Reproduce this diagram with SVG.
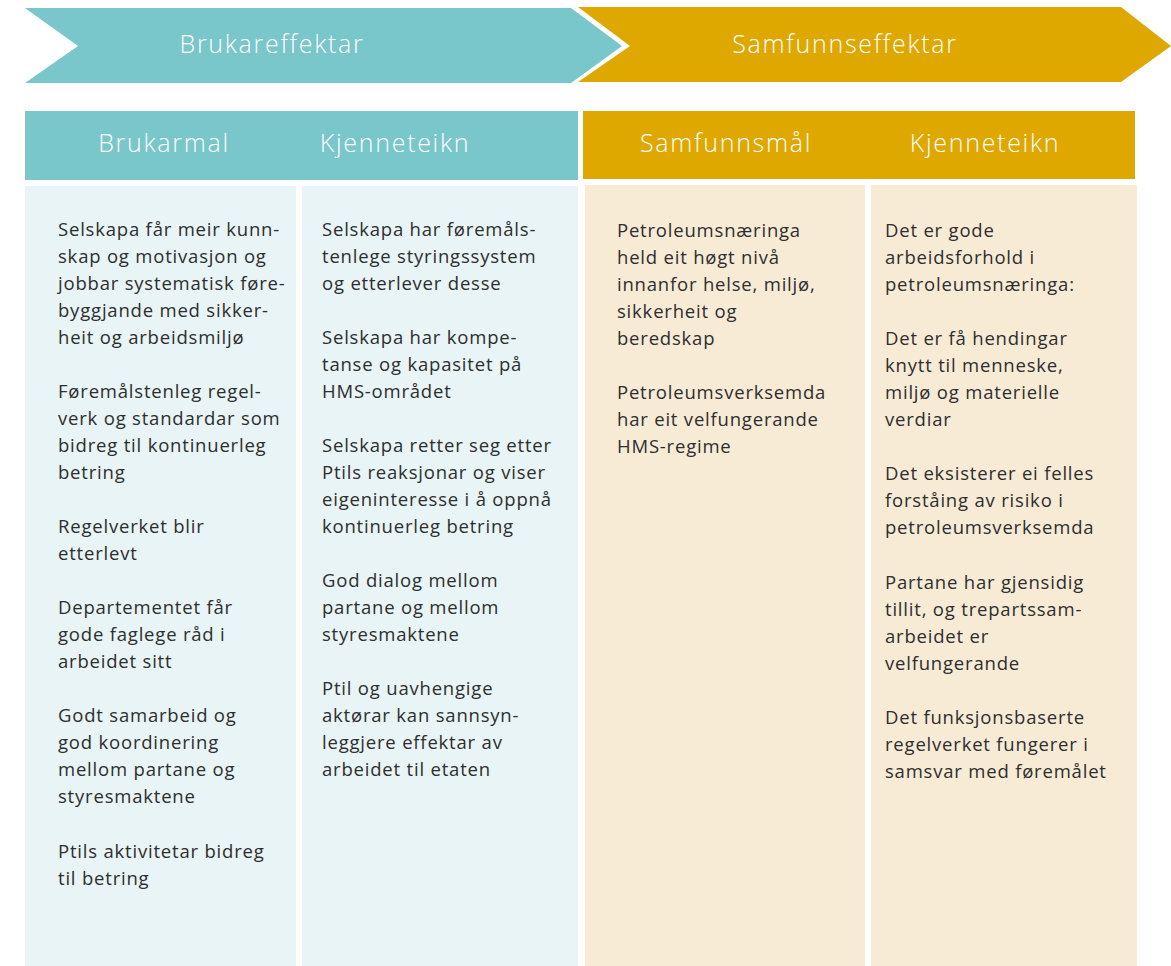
<svg xmlns="http://www.w3.org/2000/svg" width="1171" height="966" viewBox="0 0 1171 966">
<style>
.teal{fill:#79C6CB}
.gold{fill:#DFA800}
.lteal{fill:#E8F4F6}
.lgold{fill:#F8EBD6}
.hd{font-family:"Open Sans","Lato",sans-serif;font-weight:300;fill:#FFFFFF;text-anchor:middle;font-size:25px;letter-spacing:1.7px}
.bd{font-family:"Open Sans","Noto Sans",sans-serif;font-size:18.5px;letter-spacing:0.8px;fill:#2E2E2E}
</style>
<rect width="1171" height="966" fill="#FFFFFF"/>
<g id="arrow-brukareffektar">
<polygon class="teal" points="25,8 571,8 622,46 571,83 25,83 78,46"/>
<text class="hd" x="272" y="53">Brukareffektar</text>
</g>
<g id="arrow-samfunnseffektar">
<polygon class="gold" points="578,7 1121,7 1171,46 1121,82 578,82 630,46"/>
<text class="hd" x="845" y="53">Samfunnseffektar</text>
</g>
<g id="header-bruker">
<rect class="teal" x="25" y="111" width="553" height="69"/>
<text class="hd" x="164" y="152">Brukarmal</text>
<text class="hd" x="395" y="152">Kjenneteikn</text>
</g>
<g id="header-samfunn">
<rect class="gold" x="583" y="111" width="552" height="68"/>
<text class="hd" x="726" y="152">Samfunnsmål</text>
<text class="hd" x="985" y="152">Kjenneteikn</text>
</g>
<g id="col-brukarmal">
<rect class="lteal" x="25" y="186" width="271" height="780"/>
<text class="bd">
<tspan x="58" y="236">Selskapa får meir kunn-</tspan>
<tspan x="58" y="263">skap og motivasjon og</tspan>
<tspan x="58" y="290">jobbar systematisk føre-</tspan>
<tspan x="58" y="317">byggjande med sikker-</tspan>
<tspan x="58" y="344">heit og arbeidsmiljø</tspan>
<tspan x="58" y="398">Føremålstenleg regel-</tspan>
<tspan x="58" y="425">verk og standardar som</tspan>
<tspan x="58" y="452">bidreg til kontinuerleg</tspan>
<tspan x="58" y="479">betring</tspan>
<tspan x="58" y="533">Regelverket blir</tspan>
<tspan x="58" y="560">etterlevt</tspan>
<tspan x="58" y="614">Departementet får</tspan>
<tspan x="58" y="641">gode faglege råd i</tspan>
<tspan x="58" y="668">arbeidet sitt</tspan>
<tspan x="58" y="722">Godt samarbeid og</tspan>
<tspan x="58" y="749">god koordinering</tspan>
<tspan x="58" y="776">mellom partane og</tspan>
<tspan x="58" y="803">styresmaktene</tspan>
<tspan x="58" y="858">Ptils aktivitetar bidreg</tspan>
<tspan x="58" y="885">til betring</tspan>
</text>
</g>
<g id="col-kjenneteikn-bruker">
<rect class="lteal" x="302" y="186" width="276" height="780"/>
<text class="bd">
<tspan x="322" y="236">Selskapa har føremåls-</tspan>
<tspan x="322" y="263">tenlege styringssystem</tspan>
<tspan x="322" y="290">og etterlever desse</tspan>
<tspan x="322" y="344">Selskapa har kompe-</tspan>
<tspan x="322" y="371">tanse og kapasitet på</tspan>
<tspan x="322" y="398">HMS-området</tspan>
<tspan x="322" y="452">Selskapa retter seg etter</tspan>
<tspan x="322" y="479">Ptils reaksjonar og viser</tspan>
<tspan x="322" y="506">eigeninteresse i å oppnå</tspan>
<tspan x="322" y="533">kontinuerleg betring</tspan>
<tspan x="322" y="587">God dialog mellom</tspan>
<tspan x="322" y="614">partane og mellom</tspan>
<tspan x="322" y="641">styresmaktene</tspan>
<tspan x="322" y="695">Ptil og uavhengige</tspan>
<tspan x="322" y="722">aktørar kan sannsyn-</tspan>
<tspan x="322" y="749">leggjere effektar av</tspan>
<tspan x="322" y="776">arbeidet til etaten</tspan>
</text>
</g>
<g id="col-samfunnsmal">
<rect class="lgold" x="585" y="185" width="280" height="781"/>
<text class="bd">
<tspan x="617" y="237">Petroleumsnæringa</tspan>
<tspan x="617" y="264">held eit høgt nivå</tspan>
<tspan x="617" y="291">innanfor helse, miljø,</tspan>
<tspan x="617" y="318">sikkerheit og</tspan>
<tspan x="617" y="345">beredskap</tspan>
<tspan x="617" y="399">Petroleumsverksemda</tspan>
<tspan x="617" y="426">har eit velfungerande</tspan>
<tspan x="617" y="453">HMS-regime</tspan>
</text>
</g>
<g id="col-kjenneteikn-samfunn">
<rect class="lgold" x="871" y="185" width="266" height="781"/>
<text class="bd">
<tspan x="885" y="237">Det er gode</tspan>
<tspan x="885" y="264">arbeidsforhold i</tspan>
<tspan x="885" y="291">petroleumsnæringa:</tspan>
<tspan x="885" y="345">Det er få hendingar</tspan>
<tspan x="885" y="372">knytt til menneske,</tspan>
<tspan x="885" y="399">miljø og materielle</tspan>
<tspan x="885" y="426">verdiar</tspan>
<tspan x="885" y="480">Det eksisterer ei felles</tspan>
<tspan x="885" y="507">forståing av risiko i</tspan>
<tspan x="885" y="534">petroleumsverksemda</tspan>
<tspan x="885" y="589">Partane har gjensidig</tspan>
<tspan x="885" y="616">tillit, og trepartssam-</tspan>
<tspan x="885" y="643">arbeidet er</tspan>
<tspan x="885" y="670">velfungerande</tspan>
<tspan x="885" y="724">Det funksjonsbaserte</tspan>
<tspan x="885" y="751">regelverket fungerer i</tspan>
<tspan x="885" y="778">samsvar med føremålet</tspan>
</text>
</g>
<g id="connectors"/>
</svg>
